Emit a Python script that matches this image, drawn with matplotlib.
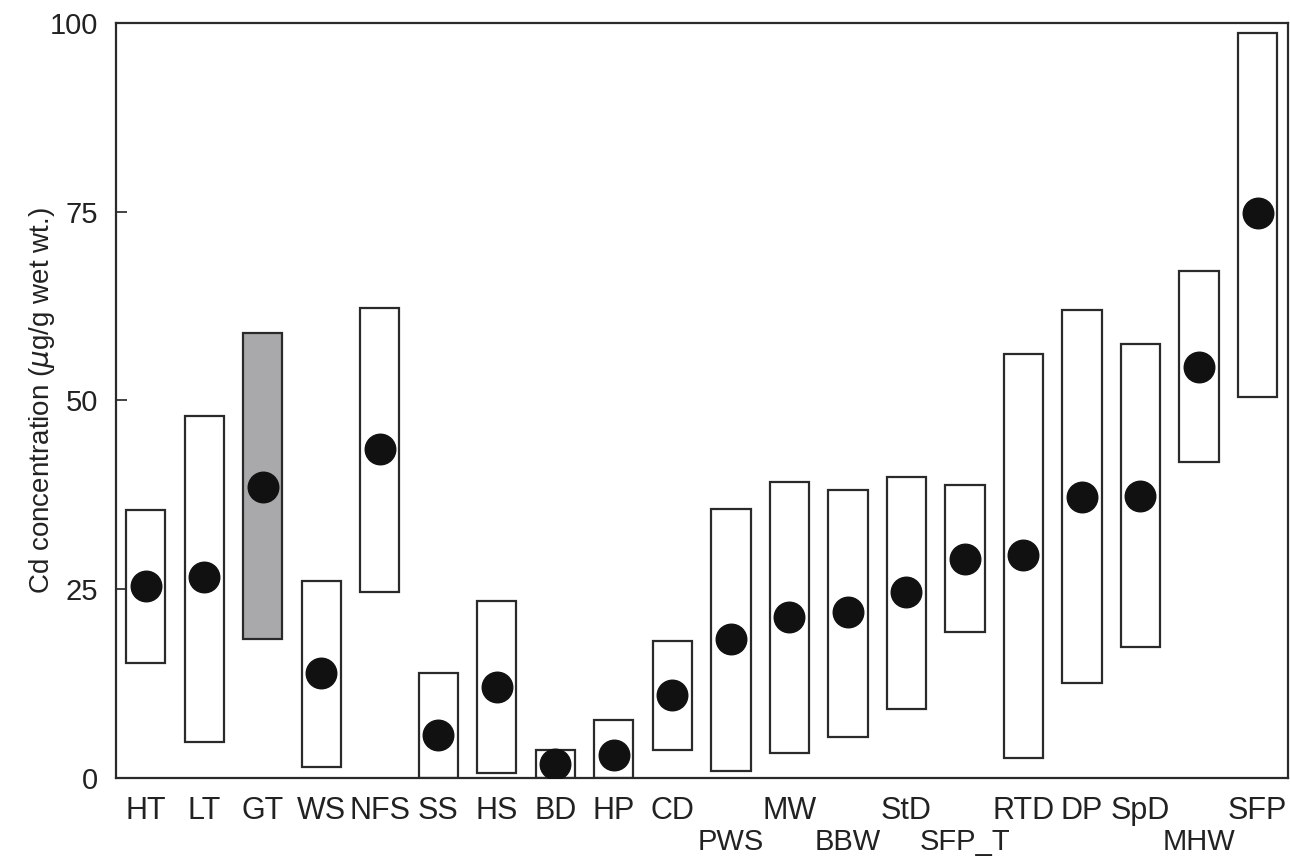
import matplotlib.pyplot as plt
from matplotlib.patches import Rectangle

plt.rcParams["font.family"] = ["Liberation Sans", "DejaVu Sans"]

# Cd concentration ranges (min-max) and means per sample group
groups = ["HT", "LT", "GT", "WS", "NFS", "SS", "HS", "BD", "HP", "CD",
          "PWS", "MW", "BBW", "StD", "SFP_T", "RTD", "DP", "SpD", "MHW", "SFP"]
range_min = [15.2, 4.8, 18.4, 1.5, 24.6, 0.0, 0.6, 0.0, 0.0, 3.7,
             0.9, 3.3, 5.4, 9.1, 19.3, 2.6, 12.6, 17.3, 41.9, 50.5]
range_max = [35.5, 47.9, 59.0, 26.1, 62.3, 13.9, 23.4, 3.7, 7.7, 18.1,
             35.6, 39.2, 38.2, 39.9, 38.8, 56.1, 62.0, 57.5, 67.1, 98.7]
mean_val = [25.4, 26.6, 38.5, 13.9, 43.6, 5.7, 12.0, 1.9, 3.1, 11.0,
            18.4, 21.3, 22.0, 24.6, 29.0, 29.5, 37.2, 37.4, 54.5, 74.8]
shaded = ["GT"]
# labels drawn on the second (lower) row
lower_row = ["PWS", "BBW", "SFP_T", "MHW"]

fig = plt.figure(figsize=(12.9, 8.61), dpi=100)
ax = fig.add_axes([0.0899, 0.0964, 0.9085, 0.8769])

box_w = 0.67
for i, g in enumerate(groups):
    face = "#a9a9ab" if g in shaded else "none"
    ax.add_patch(Rectangle((i - box_w / 2, range_min[i]), box_w,
                           range_max[i] - range_min[i],
                           facecolor=face, edgecolor="#2a2a2a", lw=1.6, zorder=2))
ax.plot(range(len(groups)), mean_val, "o", color="#111111", ms=22, zorder=3)

ax.set_xlim(-0.51, 19.52)
ax.set_ylim(0, 100)
ax.set_yticks([0, 25, 50, 75, 100])
ax.tick_params(axis="y", direction="in", length=8, width=1.2, pad=13,
               labelsize=21, colors="#222222")

upper = [i for i, g in enumerate(groups) if g not in lower_row]
lower = [i for i, g in enumerate(groups) if g in lower_row]
ax.set_xticks(upper)
ax.set_xticklabels([groups[i] for i in upper])
ax.set_xticks(lower, minor=True)
ax.set_xticklabels([groups[i] for i in lower], minor=True)
ax.tick_params(axis="x", which="major", length=0, pad=13, labelsize=22,
               colors="#222222")
ax.tick_params(axis="x", which="minor", length=0, pad=36, labelsize=21,
               colors="#222222")

for s in ax.spines.values():
    s.set_linewidth(1.6)
    s.set_color("#2a2a2a")

ax.set_ylabel(r"Cd concentration ($\mu$g/g wet wt.)", fontsize=20,
              color="#222222")
ax.yaxis.set_label_coords(-0.05, 0.5)

fig.savefig("out.png", dpi=100)
